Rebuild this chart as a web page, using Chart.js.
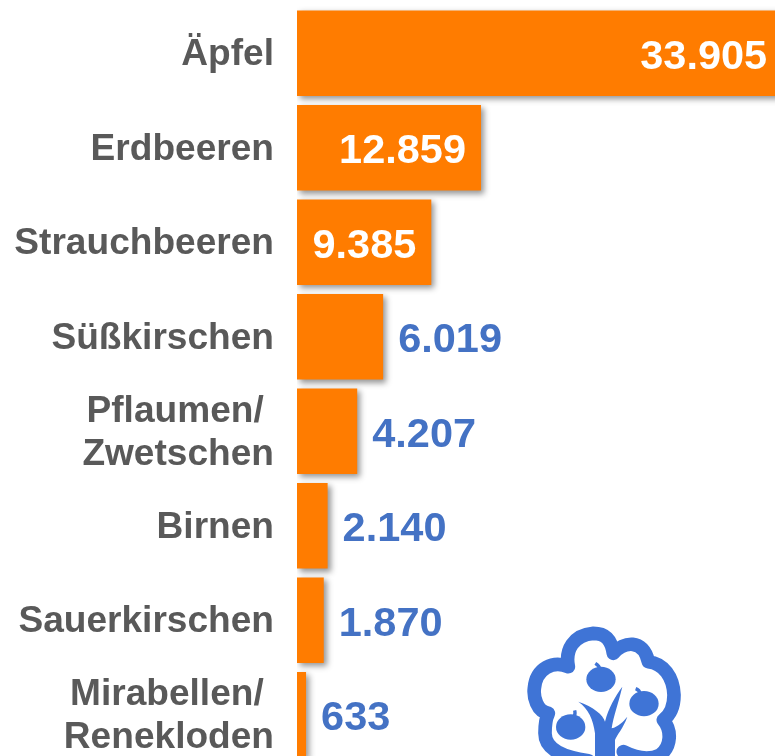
<!DOCTYPE html>
<html lang="de">
<head>
<meta charset="utf-8">
<script src="https://cdn.jsdelivr.net/npm/chart.js@4"></script>
<style>
html,body{margin:0;padding:0;width:775px;height:756px;overflow:hidden;background:#fff}
#wrap{position:relative;width:775px;height:756px;overflow:hidden}
canvas{position:absolute;left:0;top:0}
svg{position:absolute;left:500px;top:600px}
</style>
</head>
<body>
<div id="wrap">
<canvas id="c" width="800" height="762"></canvas>
<svg width="200" height="156" viewBox="0 0 600 468" aria-hidden="true">
<g fill="#3F74D6">
<path fill="none" stroke="#3F74D6" stroke-width="41" stroke-linecap="round" stroke-linejoin="round" d="M265 482C190 472 135 450 135 400C135 375 140 350 145 340C110 335 100 290 103 265C108 205 160 180 205 200C195 150 220 105 280 100C320 100 335 125 340 160C370 125 430 115 445 185C490 190 520 230 522 285C522 320 510 345 490 360C515 390 515 440 480 465C440 485 400 470 370 455"/>
<path d="M285 468L285 400C280 360 265 325 235 305C280 320 310 345 315 365C325 325 345 290 367 260C355 310 340 350 335 385C355 380 370 365 382 350C370 385 350 405 345 420L345 468Z"/>
<ellipse cx="303" cy="238" rx="44" ry="38"/>
<ellipse cx="432" cy="311" rx="44" ry="38"/>
<ellipse cx="212" cy="381" rx="44" ry="38"/>
<path fill="none" stroke="#3F74D6" stroke-width="10" d="M300 208C299 200 294 195 286 190M420 280C419 274 415 269 407 266M222 350C226 344 226 338 224 331"/>
</g>
</svg>
</div>
<script>
const categories = ["Äpfel","Erdbeeren","Strauchbeeren","Süßkirschen",["Pflaumen/ ","Zwetschen"],"Birnen","Sauerkirschen",["Mirabellen/ ","Renekloden"]];
const values = [33905,12859,9385,6019,4207,2140,1870,633];
const valueLabels = ["33.905","12.859","9.385","6.019","4.207","2.140","1.870","633"];
const insideCount = 3;

const shadowPlugin = {
  id:'barShadow',
  beforeDatasetDraw(chart){
    const c = chart.ctx; c.save();
    c.shadowColor='rgba(0,0,0,0.42)'; c.shadowBlur=6; c.shadowOffsetX=3; c.shadowOffsetY=3;
  },
  afterDatasetDraw(chart){ chart.ctx.restore(); }
};
const labelPlugin = {
  id:'valueLabels',
  afterDatasetsDraw(chart){
    const c = chart.ctx, meta = chart.getDatasetMeta(0);
    c.save();
    c.font='bold 41.5px "Liberation Sans", Arial, sans-serif';
    c.textBaseline='middle';
    meta.data.forEach((bar,i)=>{
      if(i<insideCount){ c.fillStyle='#ffffff'; c.textAlign='right'; c.fillText(valueLabels[i],bar.x-15,bar.y+4); }
      else { c.fillStyle='#4472C4'; c.textAlign='left'; c.fillText(valueLabels[i],bar.x+15,bar.y+4); }
    });
    c.restore();
  }
};
new Chart(document.getElementById('c'),{
  type:'bar',
  data:{labels:categories,datasets:[{data:values,backgroundColor:'#FF7C00',borderWidth:0,barPercentage:0.905,categoryPercentage:1}]},
  plugins:[shadowPlugin,labelPlugin],
  options:{
    indexAxis:'y',responsive:false,animation:false,
    layout:{padding:{left:0,right:0,top:6,bottom:0}},
    plugins:{legend:{display:false},tooltip:{enabled:false}},
    scales:{
      x:{display:false,min:0,max:35150,grid:{display:false}},
      y:{
        afterFit(s){s.width=297;s.paddingTop=0;s.paddingBottom=0;},
        grid:{display:false},border:{display:false},
        ticks:{color:'#595959',padding:15,labelOffset:2,autoSkip:false,font:{family:'"Liberation Sans", Arial, sans-serif',size:37.1,weight:'bold',lineHeight:1.16}}
      }
    }
  }
});
</script>
</body>
</html>
